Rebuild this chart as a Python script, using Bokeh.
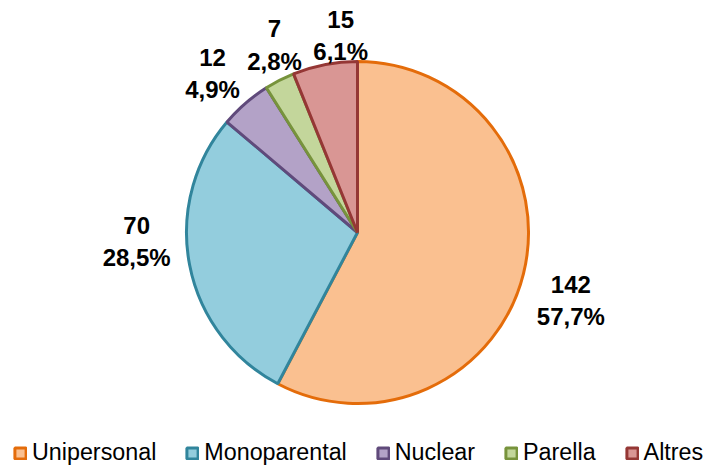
import math
from bokeh.plotting import figure
from bokeh.models import Range1d, Legend, LegendItem, ColumnDataSource
from bokeh.core.properties import value
from bokeh.embed import file_html
from bokeh.resources import INLINE

categories = ["Unipersonal", "Monoparental", "Nuclear", "Parella", "Altres"]
counts = [142, 70, 12, 7, 15]
percent_labels = ["57,7%", "28,5%", "4,9%", "2,8%", "6,1%"]
fill_colors = ["#FAC090", "#93CDDD", "#B3A2C7", "#C3D69B", "#D99694"]
line_colors = ["#E46C0A", "#31859C", "#604A7B", "#77933C", "#953735"]

# layout of the data labels ("best fit" placement): angle nudge (deg) and distance (px)
label_nudge_deg = [3.8, 8.7, -1.4, 3.2, 6.1]
label_dist = [224, 221, 215, 205, 198]

W, H = 704, 466
TOP = 468
cx, cy, R = 357, TOP - 232, 171

total = sum(counts)
starts, ends, lx, ly, texts = [], [], [], [], []
cum = 0.0
for i, (c, pl) in enumerate(zip(counts, percent_labels)):
    a0 = math.pi / 2 - 2 * math.pi * cum / total
    cum += c
    a1 = math.pi / 2 - 2 * math.pi * cum / total
    starts.append(a1)
    ends.append(a0)
    mid = (a0 + a1) / 2 - math.radians(label_nudge_deg[i])
    lx.append(cx + label_dist[i] * math.cos(mid))
    ly.append(cy + label_dist[i] * math.sin(mid))
    texts.append(f"{c}\n{pl}")

p = figure(width=W, height=H, output_backend="svg", toolbar_location=None,
           x_range=Range1d(0, W), y_range=Range1d(TOP - H, TOP),
           x_axis_type=None, y_axis_type=None, min_border=0)
p.outline_line_color = None
p.grid.visible = False

items = []
for i, cat in enumerate(categories):
    r = p.wedge(x=cx, y=cy, radius=R, start_angle=starts[i], end_angle=ends[i],
                fill_color=fill_colors[i], line_color=line_colors[i], line_width=3)
    items.append(LegendItem(label=cat, renderers=[r]))

src = ColumnDataSource(dict(x=lx, y=ly, t=texts))
p.text(x="x", y="y", text="t", source=src, text_font=value("Liberation Sans"),
       text_font_style="bold", text_font_size="24px", text_align="center",
       text_baseline="middle", text_line_height=1.2, text_color="#000000")

legend = Legend(items=items, orientation="horizontal", location=(13, 0),
                glyph_width=14, glyph_height=14, label_standoff=5, spacing=29,
                padding=0, margin=0, border_line_color=None, background_fill_alpha=0,
                label_text_font="Liberation Sans", label_text_font_size="23.3px",
                label_text_color="#000000")
p.add_layout(legend)

open("out.html", "w").write(file_html(p, INLINE))
